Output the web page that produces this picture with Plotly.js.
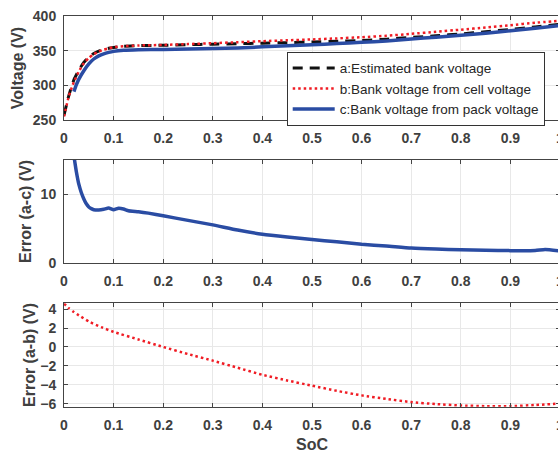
<!DOCTYPE html>
<html>
<head>
<meta charset="utf-8">
<script src="https://cdn.plot.ly/plotly-3.0.1.min.js"></script>
<style>
html,body{margin:0;padding:0;overflow:hidden;background:#fff;}
#chart{width:562px;height:451px;}
</style>
</head>
<body>
<div id="chart"></div>
<script>
// ---- data ----
const socV = [0,0.01,0.02,0.03,0.04,0.05,0.06,0.07,0.08,0.09,0.1,0.12,0.15,0.2,0.25,0.3,0.35,0.4,0.45,0.5,0.55,0.6,0.65,0.7,0.75,0.8,0.85,0.9,0.95,1.0];
const voltA = [257,286,308,322,333,341,346,349.5,351.8,353.5,354.6,356.2,357.3,357.8,358.7,359.4,360.1,360.8,361.6,362.5,363.5,364.7,366.6,369,371.5,374.2,377.3,380.7,384.3,388];
const voltB = [255,285,305,320,332,339.5,345,348.7,351.5,353.5,355,356.5,357.5,358.3,359.5,360.8,362.2,363.7,365,366.2,367.7,369.4,371.5,374.3,377.2,380.3,383.5,386.8,390.2,393.3];
const socC = [0.02,0.025,0.03,0.04,0.05,0.06,0.07,0.08,0.09,0.1,0.12,0.15,0.2,0.25,0.3,0.35,0.4,0.45,0.5,0.55,0.6,0.65,0.7,0.75,0.8,0.85,0.9,0.95,1.0];
const voltC = [291,301,309,321,331,338,342.5,345.5,347.5,349,350.5,351.3,351.8,352.3,353,354,355.5,357,358.5,360.2,362,364,366.8,369.5,372.1,375.3,378.9,382.5,386.2];
const socErrAC = [0.02,0.025,0.03,0.035,0.04,0.045,0.05,0.055,0.06,0.07,0.08,0.09,0.1,0.11,0.12,0.13,0.15,0.17,0.2,0.25,0.3,0.35,0.4,0.45,0.5,0.55,0.6,0.65,0.7,0.75,0.8,0.85,0.9,0.95,0.97,1.0];
const errAC = [15.5,13.2,11.4,10.2,9.3,8.6,8.15,7.9,7.75,7.7,7.8,8.0,7.75,7.95,7.85,7.6,7.45,7.25,6.86,6.2,5.55,4.8,4.2,3.8,3.45,3.1,2.75,2.5,2.2,2.05,1.95,1.9,1.83,1.85,2.0,1.78];
const socErrAB = [0,0.01,0.02,0.03,0.05,0.075,0.1,0.15,0.2,0.25,0.3,0.35,0.4,0.45,0.5,0.55,0.6,0.65,0.7,0.75,0.8,0.85,0.9,0.95,1.0];
const errAB = [4.6,4.1,3.7,3.35,2.7,2.1,1.6,0.8,0.0,-0.75,-1.45,-2.2,-2.95,-3.55,-4.1,-4.65,-5.13,-5.5,-5.84,-6.05,-6.2,-6.27,-6.27,-6.15,-6.0];
const xTickVals = [0,0.1,0.2,0.3,0.4,0.5,0.6,0.7,0.8,0.9,1];
const xTickText = ['0','0.1','0.2','0.3','0.4','0.5','0.6','0.7','0.8','0.9','1'];
const names = ['a:Estimated bank voltage','b:Bank voltage from cell voltage','c:Bank voltage from pack voltage'];
const xTitle = 'SoC';

const RED = 'rgb(240,28,36)';
const BLUE = '#2a4ca3';
const BLACK = '#111111';
const FONT = 'Liberation Sans, Arial, sans-serif';
const TXT = '#404040';

const traces = [
  {x: socV, y: voltA, name: names[0], mode: 'lines', line: {color: BLACK, width: 3, dash: '10px,7px', shape: 'spline', smoothing: 0.5}, xaxis: 'x', yaxis: 'y'},
  {x: socV, y: voltB, name: names[1], mode: 'lines', line: {color: RED, width: 2.5, dash: '2.5px,3px', shape: 'spline', smoothing: 0.5}, xaxis: 'x', yaxis: 'y'},
  {x: socC, y: voltC, name: names[2], mode: 'lines', line: {color: BLUE, width: 3.5, shape: 'spline', smoothing: 0.5}, xaxis: 'x', yaxis: 'y'},
  {x: socErrAC, y: errAC, showlegend: false, mode: 'lines', line: {color: BLUE, width: 3.5, shape: 'spline', smoothing: 0.5}, xaxis: 'x2', yaxis: 'y2'},
  {x: socErrAB, y: errAB, showlegend: false, mode: 'lines', line: {color: RED, width: 2.5, dash: '2.5px,3px', shape: 'spline', smoothing: 0.5}, xaxis: 'x3', yaxis: 'y3'}
];

function xax(anchor, standoff) {
  return {
    anchor: anchor, domain: [0, 1], range: [0, 1], tickvals: xTickVals, ticktext: xTickText,
    showline: true, mirror: 'ticks', linecolor: '#444', linewidth: 1,
    ticks: 'inside', ticklen: 4, tickcolor: '#444',
    showgrid: true, gridcolor: '#e8e8e8', zeroline: false,
    tickfont: {family: FONT, size: 14, weight: 'bold', color: TXT},
    ticklabelstandoff: standoff, ticklabeloverflow: 'allow'
  };
}
function yax(anchor, dom, range, tickvals, title, tstand) {
  return {
    anchor: anchor, domain: dom, range: range, tickvals: tickvals,
    showline: true, mirror: 'ticks', linecolor: '#444', linewidth: 1,
    ticks: 'inside', ticklen: 4, tickcolor: '#444',
    showgrid: true, gridcolor: '#e8e8e8', zeroline: false,
    tickfont: {family: FONT, size: 14, weight: 'bold', color: TXT},
    ticklabelstandoff: 4,
    title: {text: title, font: {family: FONT, size: 16, weight: 'bold', color: TXT}, standoff: tstand}
  };
}

const layout = {
  width: 562, height: 451,
  margin: {l: 64, r: 2, t: 0, b: 0},
  paper_bgcolor: '#fff', plot_bgcolor: '#fff',
  showlegend: true,
  legend: {
    x: 0.449, y: 0.8854, xanchor: 'left', yanchor: 'top', xref: 'paper', yref: 'paper',
    bgcolor: '#fff', bordercolor: '#333', borderwidth: 1,
    font: {family: FONT, size: 13.5, color: '#262626'},
    itemwidth: 42, tracegroupgap: 0
  },
  xaxis: xax('y', 5),
  yaxis: yax('x', [0.7339, 0.9645], [250, 400], [250, 300, 350, 400], 'Voltage (V)', 5),
  xaxis2: xax('y2', 5),
  yaxis2: yax('x2', [0.4162, 0.6463], [0, 15], [0, 10], 'Error (a-c) (V)', 5),
  xaxis3: xax('y3', 5),
  yaxis3: yax('x3', [0.0982, 0.3275], [-6.33, 4.63], [-6, -4, -2, 0, 2, 4], 'Error (a-b) (V)', 0),
  annotations: [{
    text: xTitle, xref: 'paper', yref: 'paper', x: 0.5, y: 1 - 444 / 451,
    xanchor: 'center', yanchor: 'middle', showarrow: false,
    font: {family: FONT, size: 16, weight: 'bold', color: TXT}
  }]
};

Plotly.newPlot('chart', traces, layout, {displayModeBar: false, staticPlot: true});
</script>
</body>
</html>
